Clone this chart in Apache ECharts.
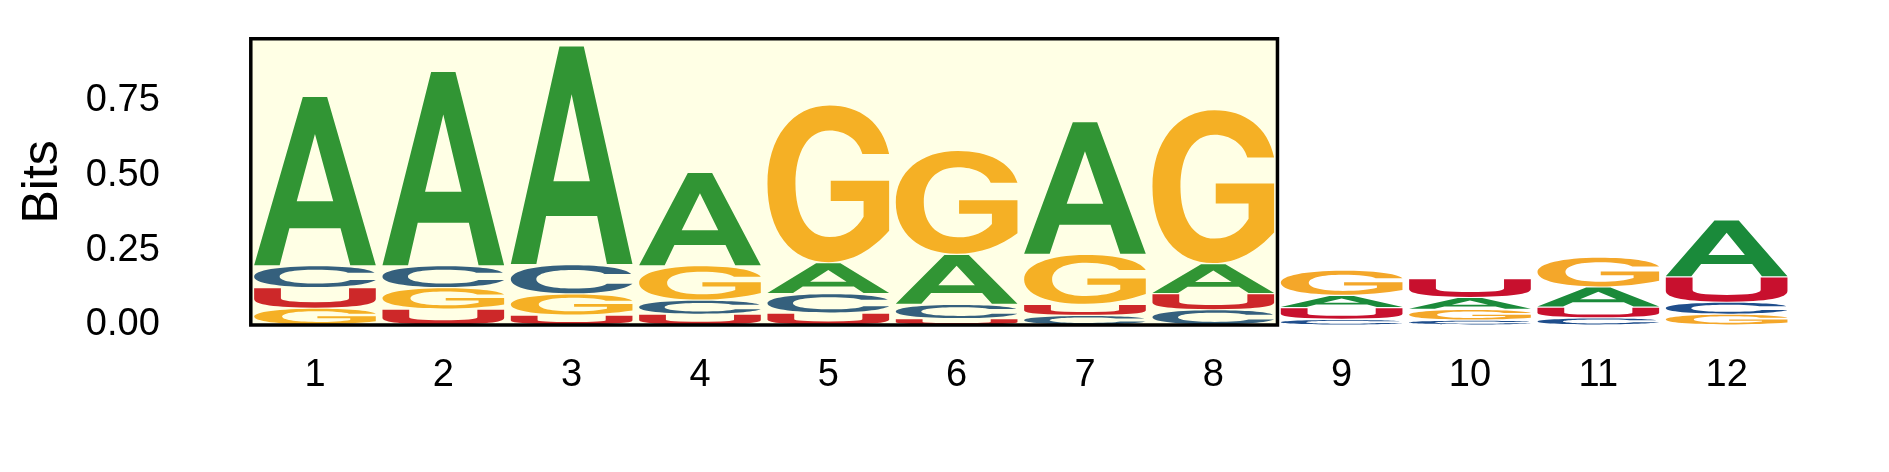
<!DOCTYPE html>
<html>
<head>
<meta charset="utf-8">
<script src="https://cdn.jsdelivr.net/npm/echarts@6/dist/echarts.min.js"></script>
<style>
  html, body { margin: 0; padding: 0; background: #fff; }
  #chart { width: 1889px; height: 472px; }
</style>
</head>
<body>
<div id="chart"></div>
<script>
// sequence logo data (bits per letter at each position)
var positions = [1, 2, 3, 4, 5, 6, 7, 8, 9, 10, 11, 12];
var letters = ['A', 'C', 'G', 'U'];
var bitsA = [0.566, 0.650, 0.731, 0.312, 0.103, 0.167, 0.444, 0.100, 0.041, 0.040, 0.067, 0.190];
var bitsC = [0.073, 0.073, 0.098, 0.047, 0.065, 0.048, 0.032, 0.051, 0.019, 0.016, 0.024, 0.040];
var bitsG = [0.056, 0.072, 0.071, 0.115, 0.528, 0.348, 0.167, 0.515, 0.084, 0.036, 0.100, 0.036];
var bitsU = [0.069, 0.053, 0.033, 0.036, 0.040, 0.021, 0.037, 0.054, 0.039, 0.063, 0.036, 0.085];
var yTicks = [0, 0.25, 0.5, 0.75];
var highlightRange = [0.5, 8.5];
var yMax = 0.957;

var letterColors = { A: '#1a8a3a', C: '#1f4e8c', G: '#f4a72a', U: '#c8102e' };

// glyph outlines in a 100x100 box, stretched to each letter's rectangle
var glyphs = {
    A: 'M0,100 L40,0 L60,0 L100,100 L79,100 L71,78 L29,78 L21,100 Z M35,62 L65,62 L50,22 Z',
    C: 'M99,31 C94,11 76,0 51,0 C20,0 0,20 0,50 C0,80 19,100 51,100 C76,100 94,87 100,66 L79,66 ' +
       'C75,78 65,83 51,83 C32,83 21,69 21,50 C21,30 32,17 51,17 C64,17 74,23 77,31 Z',
    G: 'M100,31 C95,11 76,0 51,0 C20,0 0,21 0,50 C0,80 19,100 50,100 C70,100 86,92 100,80 L100,48 ' +
       'L52,48 L52,61 L79,61 L79,71 C73,79 64,84 51,84 C33,84 23,70 23,50 C23,30 33,16 51,16 ' +
       'C64,16 75,22 78,31 Z',
    U: 'M0,0 L22,0 L22,52 Q22,72 50,72 Q78,72 78,52 L78,0 L100,0 L100,56 Q100,100 50,100 Q0,100 0,56 Z'
};

// stack letters per position, smallest at the bottom
var stacks = [];
positions.forEach(function (p, i) {
    var col = [
        { l: 0, v: bitsA[i] }, { l: 1, v: bitsC[i] },
        { l: 2, v: bitsG[i] }, { l: 3, v: bitsU[i] }
    ];
    col.sort(function (a, b) { return a.v - b.v; });
    var base = 0;
    col.forEach(function (c) {
        stacks.push([p, base, base + c.v, c.l]);
        base += c.v;
    });
});

var font = 'Liberation Sans, Arial, Helvetica, sans-serif';
var chart = echarts.init(document.getElementById('chart'));

chart.setOption({
    animation: false,
    grid: { left: 250.8, right: 98.2, top: 38.7, bottom: 147 },
    xAxis: {
        type: 'value',
        min: 0.5,
        max: 12.5,
        axisLine: { show: false },
        axisTick: { show: false },
        splitLine: { show: false },
        axisLabel: {
            customValues: positions,
            margin: 32,
            fontSize: 38,
            color: '#000',
            fontFamily: font
        }
    },
    yAxis: {
        type: 'value',
        min: 0,
        max: yMax,
        name: 'Bits',
        nameLocation: 'middle',
        nameRotate: 90,
        nameGap: 183,
        nameTextStyle: { fontSize: 50, color: '#000', fontFamily: font },
        axisLine: { show: false },
        axisTick: { show: false },
        splitLine: { show: false },
        axisLabel: {
            customValues: yTicks,
            margin: 91,
            fontSize: 38,
            color: '#000',
            fontFamily: font,
            formatter: function (v) { return v.toFixed(2); }
        }
    },
    series: [
        {
            type: 'custom',
            name: 'logo',
            data: stacks,
            encode: { x: 0, y: [1, 2] },
            renderItem: function (params, api) {
                var p = api.value(0);
                var l = letters[api.value(3)];
                var tl = api.coord([p - 0.474, api.value(2)]);
                var br = api.coord([p + 0.474, api.value(1)]);
                return {
                    type: 'path',
                    shape: {
                        pathData: glyphs[l],
                        layout: 'cover',
                        x: tl[0],
                        y: tl[1] + 0.6,
                        width: br[0] - tl[0],
                        height: Math.max(br[1] - tl[1] - 1.2, 0.5)
                    },
                    style: { fill: letterColors[l] }
                };
            }
        },
        {
            type: 'custom',
            name: 'highlight',
            z: 5,
            data: [highlightRange],
            renderItem: function (params, api) {
                var tl = api.coord([api.value(0), yMax]);
                var br = api.coord([api.value(1), 0]);
                return {
                    type: 'rect',
                    shape: { x: tl[0], y: tl[1], width: br[0] - tl[0], height: br[1] - tl[1] },
                    style: { fill: 'rgba(255,255,0,0.1)', stroke: '#000', lineWidth: 3.5 }
                };
            }
        }
    ]
});
</script>
</body>
</html>
